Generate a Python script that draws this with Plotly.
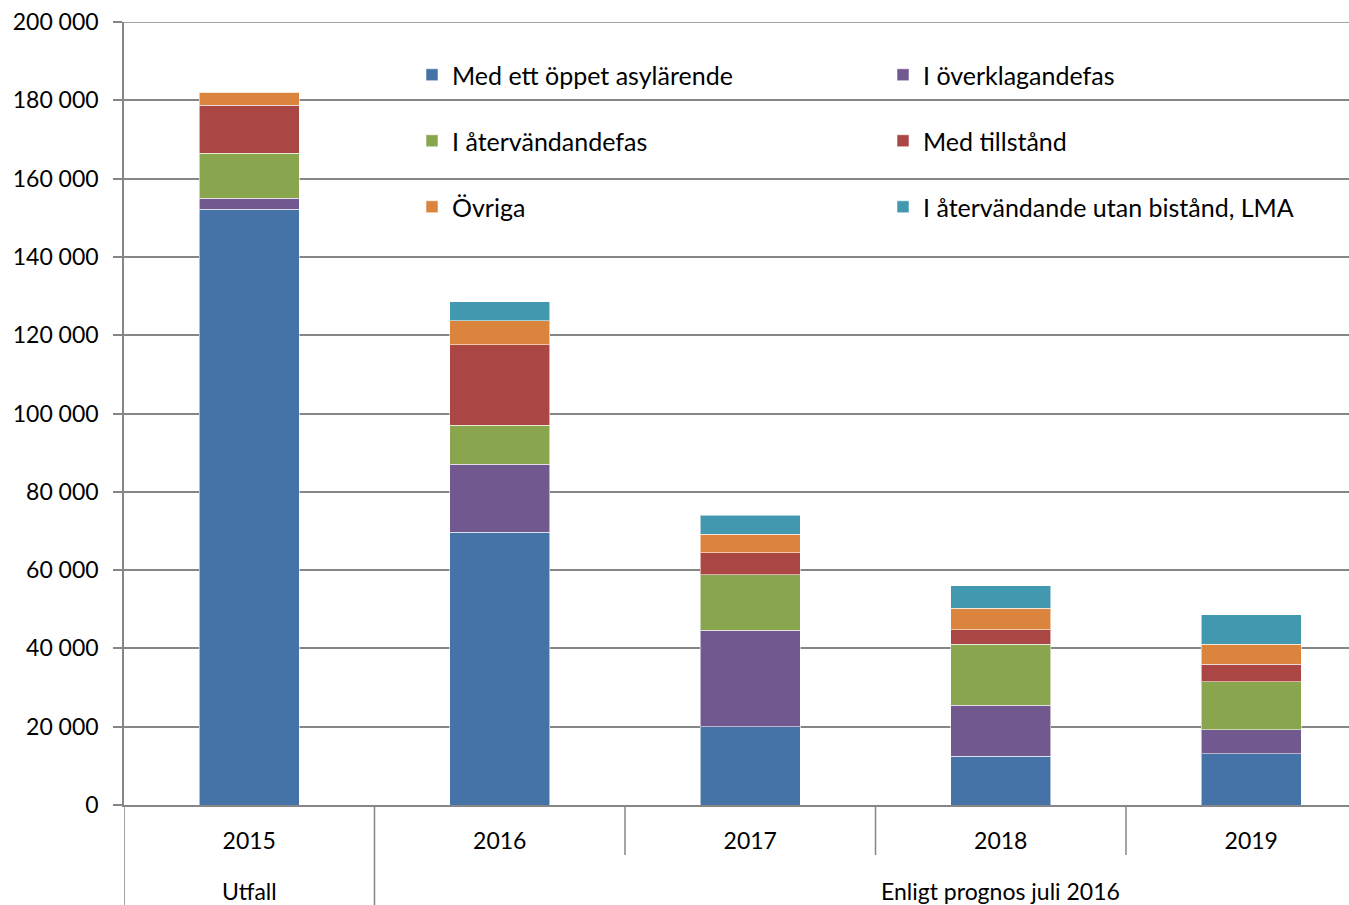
import plotly.graph_objects as go

years = ["2015", "2016", "2017", "2018", "2019"]
group_labels = ["Utfall", "Enligt prognos juli 2016"]

series_names = ["Med ett öppet asylärende", "I överklagandefas", "I återvändandefas",
                "Med tillstånd", "Övriga", "I återvändande utan bistånd, LMA"]
med_oppet = [152200, 69700, 20000, 12500, 13100]
overklagande = [2800, 17300, 24600, 13000, 6100]
atervandande = [11500, 10000, 14200, 15600, 12300]
tillstand = [12200, 20500, 5600, 3700, 4500]
ovriga = [3300, 6200, 4700, 5400, 5000]
lma = [0, 4800, 4900, 5800, 7600]

values = [med_oppet, overklagande, atervandande, tillstand, ovriga, lma]
colors = ["#4572A7", "#71588F", "#89A54E", "#AA4643", "#DB843D", "#4198AF"]

Y_MAX = 200000
FONT = "Lato"
FS = 23
LFS = 25
GRID = "#868686"

W, H = 1349, 905
ML, MR, MT, MB = 124, 0, 22, 100
PLOT_W = W - ML - MR
PLOT_H = H - MT - MB
CAT_W = 250.5  # px per category in the reference (the chart runs past the right edge)
X_MAX = -0.5 + PLOT_W / CAT_W

# legend placement (paper coords): two columns, three rows
leg_x = [(412 - ML) / PLOT_W, (883 - ML) / PLOT_W]
leg_y = [(805 - 75) / PLOT_H, (805 - 141) / PLOT_H, (805 - 207) / PLOT_H]
legend_ids = ["legend", "legend2", "legend3", "legend4", "legend5", "legend6"]

fig = go.Figure()
for name, vals, col, lg in zip(series_names, values, colors, legend_ids):
    fig.add_trace(go.Bar(
        x=years, y=vals, name=name, showlegend=True,
        marker=dict(color=col, line=dict(color="rgba(255,255,255,0.55)", width=1)),
        legend=lg, hoverinfo="skip",
    ))

legends = {}
for i, lg in enumerate(legend_ids):
    legends[lg] = dict(
        x=leg_x[i % 2], y=leg_y[i // 2], xanchor="left", yanchor="middle",
        orientation="h", font=dict(family=FONT, size=LFS, color="#000000"),
        bgcolor="rgba(0,0,0,0)", itemclick=False, itemdoubleclick=False,
        visible=True,
    )

shapes = [
    # top gridline at the edge of the value range
    dict(type="line", xref="paper", yref="y", x0=0, x1=1, y0=Y_MAX, y1=Y_MAX,
         line=dict(color=GRID, width=1.5), layer="below"),
]
# boundary ticks between years (short) and group dividers (long)
for xb, length in [(-0.5, 100), (0.5, 100), (1.5, 50), (2.5, 50), (3.5, 50)]:
    shapes.append(dict(type="line", xref="x", yref="paper", x0=xb, x1=xb,
                       y0=0, y1=-length / PLOT_H,
                       line=dict(color=GRID, width=1.5)))

annotations = [
    dict(text=group_labels[0], x=0, y=-86 / PLOT_H, xref="x", yref="paper",
         showarrow=False, yanchor="middle", font=dict(family=FONT, size=FS, color="#000000")),
    dict(text=group_labels[1], x=3, y=-86 / PLOT_H, xref="x", yref="paper",
         showarrow=False, yanchor="middle", font=dict(family=FONT, size=FS, color="#000000")),
]

fig.update_layout(
    width=W, height=H,
    margin=dict(l=ML, r=MR, t=MT, b=MB, autoexpand=False),
    paper_bgcolor="white", plot_bgcolor="white",
    showlegend=True,
    barmode="stack", bargap=0.6,
    separators=", ",
    font=dict(family=FONT, size=FS, color="#000000"),
    shapes=shapes, annotations=annotations,
    yaxis=dict(range=[0, Y_MAX], tick0=0, dtick=20000, tickformat=",d",
               showgrid=True, gridcolor=GRID, gridwidth=1.5,
               showline=True, linecolor=GRID, linewidth=1.5,
               ticks="outside", ticklen=9, tickcolor=GRID, tickwidth=1.5,
               ticklabelstandoff=10, ticklabeloverflow="allow", automargin=False,
               zeroline=False, fixedrange=True,
               tickfont=dict(family=FONT, size=FS, color="#000000")),
    xaxis=dict(type="category", range=[-0.5, X_MAX],
               showline=True, linecolor=GRID, linewidth=1.5,
               ticks="", ticklabelstandoff=15, automargin=False,
               showgrid=False, fixedrange=True,
               tickfont=dict(family=FONT, size=FS, color="#000000")),
    **legends,
)

fig.write_html(
    "out.html",
    config={"displayModeBar": False, "staticPlot": False},
    post_script="document.body.style.margin='0';document.body.style.overflow='hidden';",
)
